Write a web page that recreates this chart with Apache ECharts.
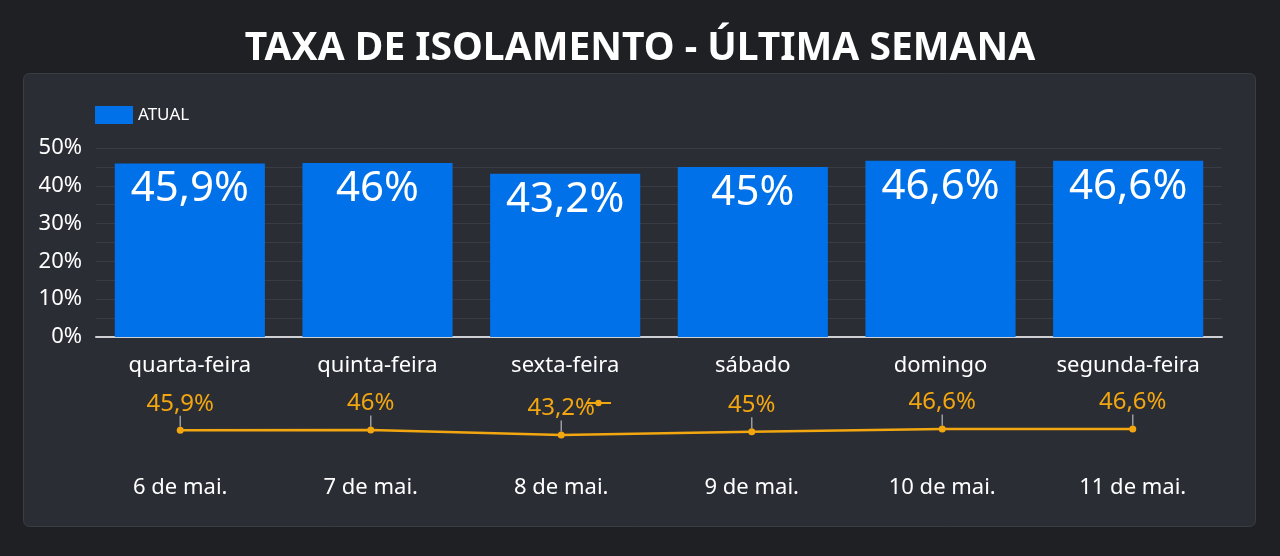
<!DOCTYPE html>
<html>
<head>
<meta charset="utf-8">
<script src="https://cdn.jsdelivr.net/npm/echarts@6/dist/echarts.min.js"></script>
<style>
  html, body { margin: 0; padding: 0; background: #1f2024; }
  #main { width: 1280px; height: 556px; }
</style>
</head>
<body>
<div id="main"></div>
<script>
// data
const days = ['quarta-feira', 'quinta-feira', 'sexta-feira', 'sábado', 'domingo', 'segunda-feira'];
const dates = ['6 de mai.', '7 de mai.', '8 de mai.', '9 de mai.', '10 de mai.', '11 de mai.'];
const atual = [45.9, 46, 43.2, 45, 46.6, 46.6];

const pct = v => String(v).replace('.', ',') + '%';
const font = 'Noto Sans';
const orange = '#f2a60f';

let chart = echarts.init(document.getElementById('main'));

let option = {
    backgroundColor: '#1f2024',
    textStyle: { fontFamily: font },
    title: {
        text: 'TAXA DE ISOLAMENTO - ÚLTIMA SEMANA',
        left: 'center',
        top: 24,
        textStyle: { color: '#ffffff', fontSize: 39, fontWeight: 'bold', fontFamily: font }
    },
    graphic: [{
        type: 'rect',
        z: -10,
        shape: { x: 23.5, y: 73.5, width: 1232, height: 453, r: 6 },
        style: { fill: '#2b2d35', stroke: '#3b3d45', lineWidth: 1 }
    }],
    legend: [{
        data: ['ATUAL'],
        left: 90,
        top: 101,
        itemWidth: 38,
        itemHeight: 18,
        itemGap: 8,
        icon: 'rect',
        textStyle: { color: '#ffffff', fontSize: 17, fontFamily: font }
    }, {
        // stray line legend icon that sits behind the "43,2%" label
        data: ['linha'],
        left: 580,
        top: 394,
        itemWidth: 25,
        itemHeight: 8,
        formatter: () => '',
        selectedMode: false
    }],
    grid: [
        { left: 96, right: 58, top: 148, height: 189 },
        { left: 85, right: 52, top: 423, height: 17.6 }
    ],
    xAxis: [{
        type: 'category',
        gridIndex: 0,
        data: days,
        axisLine: { lineStyle: { color: '#cfd0d4', width: 2 } },
        axisTick: { show: false },
        axisLabel: { color: '#ffffff', fontSize: 22, margin: 18, fontFamily: font }
    }, {
        type: 'category',
        gridIndex: 1,
        data: dates,
        axisLine: { show: false },
        axisTick: { show: false },
        axisLabel: { color: '#ffffff', fontSize: 22, margin: 36, fontFamily: font }
    }],
    yAxis: [{
        type: 'value',
        gridIndex: 0,
        min: 0,
        max: 50,
        interval: 10,
        axisLabel: { color: '#ffffff', fontSize: 22, margin: 14, formatter: '{value}%', fontFamily: font },
        splitLine: { lineStyle: { color: '#3a3c45', width: 1 } },
        minorTick: { show: false, splitNumber: 2 },
        minorSplitLine: { show: true, lineStyle: { color: '#3a3c45', width: 1 } }
    }, {
        type: 'value',
        gridIndex: 1,
        min: 40,
        max: 50,
        show: false,
        splitLine: { show: false }
    }],
    series: [{
        name: 'ATUAL',
        type: 'bar',
        xAxisIndex: 0,
        yAxisIndex: 0,
        data: atual,
        barWidth: '80%',
        itemStyle: { color: '#0071e8' },
        label: {
            show: true,
            position: 'insideTop',
            distance: 5,
            color: '#ffffff',
            fontSize: 42,
            fontFamily: font,
            formatter: p => pct(p.value)
        }
    }, {
        name: 'linha',
        type: 'line',
        xAxisIndex: 1,
        yAxisIndex: 1,
        data: atual,
        symbol: 'circle',
        symbolSize: 7,
        lineStyle: { color: orange, width: 2.5 },
        itemStyle: { color: orange },
        label: {
            show: true,
            position: 'top',
            distance: 0,
            color: orange,
            fontSize: 24,
            fontFamily: font,
            formatter: p => pct(p.value)
        },
        labelLayout: { dy: -11 },
        labelLine: { show: true, lineStyle: { color: '#9a9ba0', width: 1.5 } }
    }]
};

chart.setOption(option);
</script>
</body>
</html>
